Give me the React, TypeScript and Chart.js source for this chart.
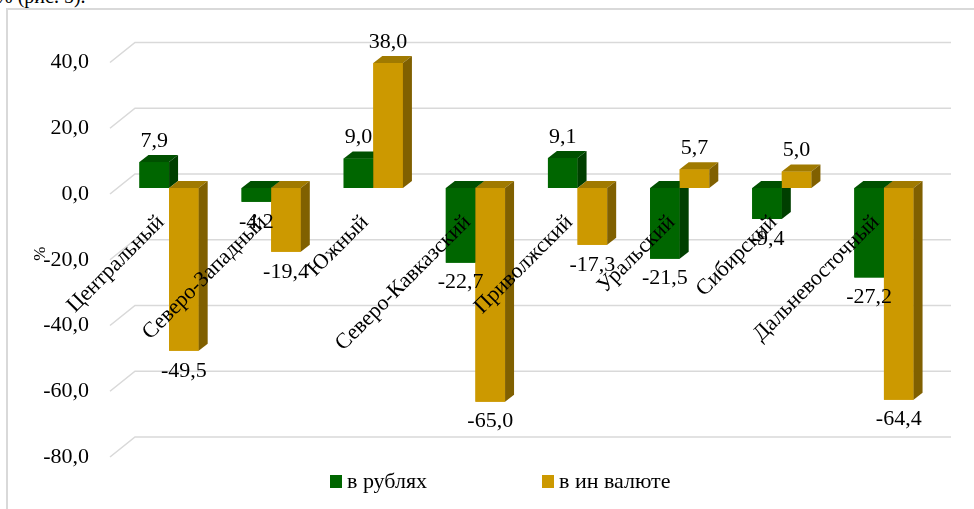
import React, { useEffect, useRef } from "react";
import { Chart, registerables } from "chart.js";

Chart.register(...registerables);

const categories = [
  "Центральный",
  "Северо-Западный",
  "Южный",
  "Северо-Кавказский",
  "Приволжский",
  "Уральский",
  "Сибирский",
  "Дальневосточный",
];
const rubles = [7.9, -4.2, 9.0, -22.7, 9.1, -21.5, -9.4, -27.2];
const foreign = [-49.5, -19.4, 38.0, -65.0, -17.3, 5.7, 5.0, -64.4];
const seriesNames = ["в рублях", "в ин валюте"];
const yTicks = [-80, -60, -40, -20, 0, 20, 40];
const yTitle = "%";

const frontColors = ["#006600", "#CC9900"];
const topColors = ["#005000", "#A07A00"];
const sideColors = ["#003F00", "#806000"];

const FONT = '"Liberation Serif", "Times New Roman", serif';
const DX = 9;
const DY = 7;
const fmt = (v: number) => v.toFixed(1).replace(".", ",");

const depthPlugin = {
  id: "depth3d",
  beforeDatasetsDraw(chart: any) {
    const { ctx, chartArea, scales } = chart;
    const y = scales.y;
    ctx.save();
    ctx.strokeStyle = "#d9d9d9";
    ctx.lineWidth = 1.6;
    yTicks.forEach((v) => {
      const yf = y.getPixelForValue(v) + 6;
      ctx.beginPath();
      ctx.moveTo(chartArea.left - 8, yf);
      ctx.lineTo(chartArea.left + 17, yf - 20);
      ctx.lineTo(chartArea.right + 16, yf - 20);
      ctx.stroke();
    });
    ctx.restore();
  },
  afterDatasetsDraw(chart: any) {
    const ctx = chart.ctx;
    const metas = [chart.getDatasetMeta(0), chart.getDatasetMeta(1)];
    ctx.save();
    for (let i = 0; i < categories.length; i++) {
      metas.forEach((meta: any, d: number) => {
        const bar = meta.data[i];
        const { x, y, base, width } = bar.getProps(["x", "y", "base", "width"], true);
        const l = x - width / 2;
        const r = x + width / 2;
        const top = Math.min(y, base);
        const bot = Math.max(y, base);
        ctx.fillStyle = frontColors[d];
        ctx.fillRect(l, top, r - l, bot - top);
        ctx.fillStyle = topColors[d];
        ctx.beginPath();
        ctx.moveTo(l, top);
        ctx.lineTo(l + DX, top - DY);
        ctx.lineTo(r + DX, top - DY);
        ctx.lineTo(r, top);
        ctx.closePath();
        ctx.fill();
        ctx.fillStyle = sideColors[d];
        ctx.beginPath();
        ctx.moveTo(r, top);
        ctx.lineTo(r + DX, top - DY);
        ctx.lineTo(r + DX, bot - DY);
        ctx.lineTo(r, bot);
        ctx.closePath();
        ctx.fill();
      });
    }
    ctx.restore();
  },
  afterDraw(chart: any) {
    const ctx = chart.ctx;
    const xs = chart.scales.x;
    const data = [rubles, foreign];
    ctx.save();
    ctx.fillStyle = "#000";
    ctx.font = `22px ${FONT}`;
    ctx.textAlign = "center";
    ctx.textBaseline = "middle";
    [0, 1].forEach((d) => {
      const meta = chart.getDatasetMeta(d);
      meta.data.forEach((bar: any, i: number) => {
        const v = data[d][i];
        const { x, y } = bar.getProps(["x", "y"], true);
        const ly = v >= 0 ? y - 21 : y + 20;
        ctx.fillText(fmt(v), x, ly);
      });
    });
    // category labels
    ctx.textAlign = "right";
    ctx.textBaseline = "middle";
    categories.forEach((c, i) => {
      const cx = xs.getPixelForValue(i);
      ctx.save();
      ctx.translate(cx - 8, 219);
      ctx.rotate(-Math.PI / 4);
      ctx.fillText(c, 0, 0);
      ctx.restore();
    });
    // legend
    const legendY = 482;
    const items = [
      { x: 330, label: seriesNames[0], color: frontColors[0] },
      { x: 542, label: seriesNames[1], color: frontColors[1] },
    ];
    ctx.textAlign = "left";
    items.forEach((it) => {
      ctx.fillStyle = it.color;
      ctx.fillRect(it.x, legendY - 7, 12, 13);
      ctx.fillStyle = "#000";
      ctx.fillText(it.label, it.x + 17, legendY);
    });
    ctx.restore();
  },
};

export default function App() {
  const ref = useRef<HTMLCanvasElement | null>(null);
  useEffect(() => {
    if (!ref.current) return;
    const chart = new Chart(ref.current, {
      type: "bar",
      data: {
        labels: categories,
        datasets: [
          {
            label: seriesNames[0],
            data: rubles,
            backgroundColor: frontColors[0],
            categoryPercentage: 0.58,
            barPercentage: 1.0,
          },
          {
            label: seriesNames[1],
            data: foreign,
            backgroundColor: frontColors[1],
            categoryPercentage: 0.58,
            barPercentage: 1.0,
          },
        ],
      },
      options: {
        responsive: false,
        animation: false,
        layout: { padding: { left: 30, right: 39, top: 56.5, bottom: 58 } },
        plugins: {
          legend: { display: false },
          tooltip: { enabled: false },
        },
        scales: {
          x: { display: false },
          y: {
            min: -80,
            max: 40,
            afterFit: (scale: any) => {
              scale.width = 88;
            },
            ticks: {
              stepSize: 20,
              padding: 29,
              labelOffset: 6,
              color: "#000",
              font: { family: FONT, size: 22 },
              callback: (v: any) => fmt(Number(v)),
            },
            grid: { display: false, drawTicks: false },
            border: { display: false },
            title: {
              display: true,
              text: yTitle,
              color: "#000",
              font: { family: FONT, size: 17 },
              padding: { top: 0, bottom: 0 },
            },
          },
        },
      },
      plugins: [depthPlugin],
    });
    return () => chart.destroy();
  }, []);

  return (
    <div style={{ position: "fixed", left: 0, top: 0, width: 974, height: 509, overflow: "hidden", background: "#fff" }}>
      <div
        style={{
          position: "absolute",
          left: -4,
          top: -15,
          fontFamily: FONT,
          fontSize: 20,
          color: "#000",
          whiteSpace: "nowrap",
        }}
      >
        % (рис. 5).
      </div>
      <div
        style={{
          position: "absolute",
          left: 6,
          top: 8,
          width: 1000,
          height: 600,
          borderLeft: "2px solid #d9d9d9",
          borderTop: "2px solid #d9d9d9",
        }}
      />
      <canvas ref={ref} width={974} height={509} style={{ position: "absolute", left: 0, top: 0 }} />
    </div>
  );
}
